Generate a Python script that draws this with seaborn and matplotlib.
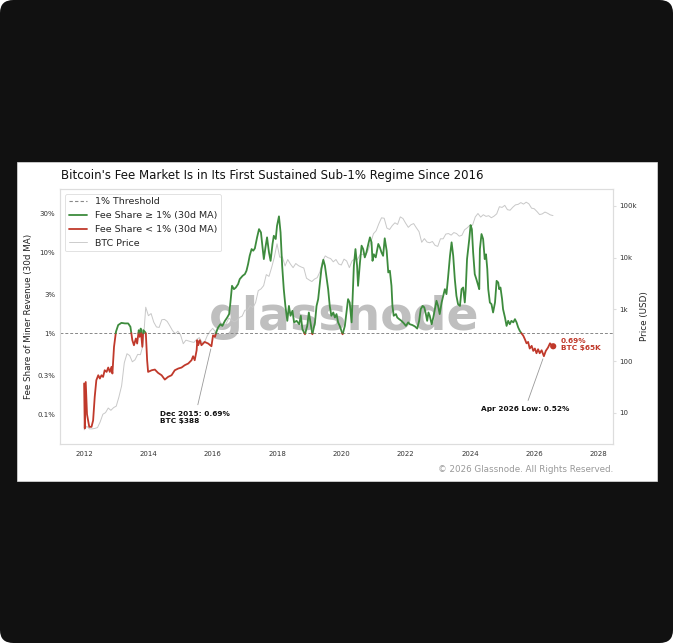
import numpy as np
import matplotlib
matplotlib.use("Agg")
import matplotlib.pyplot as plt
from matplotlib.lines import Line2D
from matplotlib.patches import FancyBboxPatch, Rectangle
from matplotlib.ticker import FixedLocator, FixedFormatter, NullLocator
import seaborn as sns

# fee share of miner revenue, 30d MA (%)
fee_year = [
    2012.00, 2012.02, 2012.05, 2012.09, 2012.16, 2012.23, 2012.28, 2012.33, 2012.38, 2012.44,
    2012.49, 2012.54, 2012.59, 2012.64, 2012.70, 2012.75, 2012.80, 2012.85, 2012.88, 2012.93,
    2012.99, 2013.06, 2013.16, 2013.27, 2013.37, 2013.44, 2013.50, 2013.55, 2013.61, 2013.65,
    2013.70, 2013.73, 2013.76, 2013.81, 2013.84, 2013.89, 2013.92, 2013.96, 2013.99, 2014.10,
    2014.20, 2014.30, 2014.41, 2014.51, 2014.61, 2014.72, 2014.82, 2014.93, 2015.03, 2015.13,
    2015.24, 2015.34, 2015.39, 2015.44, 2015.50, 2015.52, 2015.55, 2015.60, 2015.65, 2015.75,
    2015.86, 2015.96, 2016.01, 2016.07, 2016.12, 2016.17, 2016.24, 2016.30, 2016.38, 2016.45,
    2016.51, 2016.55, 2016.60, 2016.66, 2016.72, 2016.79, 2016.84, 2016.93, 2017.00, 2017.05,
    2017.10, 2017.15, 2017.21, 2017.26, 2017.31, 2017.38, 2017.44, 2017.50, 2017.55, 2017.59,
    2017.64, 2017.69, 2017.75, 2017.80, 2017.86, 2017.90, 2017.96, 2018.00, 2018.06, 2018.11,
    2018.16, 2018.21, 2018.26, 2018.32, 2018.37, 2018.42, 2018.48, 2018.53, 2018.61, 2018.69,
    2018.74, 2018.79, 2018.87, 2018.94, 2018.99, 2019.04, 2019.10, 2019.18, 2019.23, 2019.28,
    2019.33, 2019.38, 2019.44, 2019.49, 2019.54, 2019.59, 2019.64, 2019.69, 2019.75, 2019.80,
    2019.85, 2019.90, 2019.95, 2020.04, 2020.11, 2020.16, 2020.21, 2020.26, 2020.32, 2020.35,
    2020.39, 2020.44, 2020.49, 2020.52, 2020.58, 2020.63, 2020.68, 2020.73, 2020.78, 2020.84,
    2020.89, 2020.94, 2020.97, 2021.01, 2021.07, 2021.15, 2021.20, 2021.25, 2021.30, 2021.35,
    2021.41, 2021.46, 2021.51, 2021.56, 2021.59, 2021.63, 2021.70, 2021.74, 2021.80, 2021.87,
    2021.94, 2022.01, 2022.08, 2022.13, 2022.21, 2022.29, 2022.36, 2022.42, 2022.47, 2022.53,
    2022.58, 2022.63, 2022.67, 2022.71, 2022.75, 2022.81, 2022.86, 2022.91, 2022.96, 2023.01,
    2023.06, 2023.12, 2023.17, 2023.22, 2023.27, 2023.32, 2023.38, 2023.43, 2023.48, 2023.53,
    2023.58, 2023.63, 2023.69, 2023.74, 2023.79, 2023.84, 2023.87, 2023.91, 2023.98, 2024.02,
    2024.06, 2024.10, 2024.15, 2024.20, 2024.26, 2024.29, 2024.31, 2024.36, 2024.41, 2024.46,
    2024.50, 2024.54, 2024.57, 2024.62, 2024.67, 2024.72, 2024.78, 2024.83, 2024.88, 2024.91,
    2024.95, 2025.00, 2025.03, 2025.09, 2025.14, 2025.19, 2025.24, 2025.29, 2025.35, 2025.40,
    2025.45, 2025.50, 2025.55, 2025.60, 2025.66, 2025.71, 2025.76, 2025.81, 2025.86, 2025.92,
    2025.97, 2026.02, 2026.07, 2026.12, 2026.17, 2026.23, 2026.30, 2026.36, 2026.43, 2026.49,
    2026.54, 2026.59,
]
fee_pct = [
    0.24, 0.067, 0.25, 0.10, 0.070, 0.070, 0.084, 0.164, 0.263, 0.303,
    0.276, 0.303, 0.289, 0.349, 0.333, 0.377, 0.333, 0.384, 0.318, 0.678,
    1.04, 1.26, 1.34, 1.32, 1.32, 1.20, 0.82, 0.71, 0.86, 0.745,
    1.09, 0.90, 1.14, 0.68, 1.09, 1.04, 0.99, 0.464, 0.333, 0.349,
    0.356, 0.324, 0.303, 0.268, 0.289, 0.303, 0.349, 0.367, 0.377, 0.403,
    0.423, 0.464, 0.520, 0.464, 0.617, 0.82, 0.711, 0.82, 0.711, 0.78,
    0.745, 0.69, 0.94, 0.90, 1.05, 1.18, 1.29, 1.23, 1.42, 1.56,
    1.72, 2.39, 3.84, 3.49, 3.66, 4.03, 4.64, 5.10, 5.35, 5.89,
    7.11, 9.01, 10.9, 10.4, 11.1, 15.2, 19.2, 17.5, 11.4, 8.2,
    11.4, 15.2, 9.9, 7.8, 12.6, 15.9, 14.5, 21.1, 27.6, 17.5,
    6.78, 3.49, 2.17, 1.42, 2.17, 1.64, 1.89, 1.36, 1.42, 1.29,
    1.64, 1.12, 0.97, 1.23, 1.80, 1.36, 0.97, 1.36, 2.17, 2.63,
    4.03, 6.17, 8.04, 6.78, 4.87, 3.49, 2.17, 1.64, 1.80, 1.56,
    1.72, 1.36, 1.23, 0.97, 1.23, 1.80, 2.63, 2.39, 1.36, 2.63,
    6.78, 10.9, 6.78, 3.84, 7.46, 12.0, 10.9, 8.6, 9.9, 12.6,
    15.2, 13.2, 7.8, 9.4, 8.6, 12.6, 11.4, 9.9, 9.0, 14.8,
    10.4, 5.61, 5.89, 3.84, 2.17, 1.64, 1.72, 1.56, 1.49, 1.42,
    1.33, 1.23, 1.36, 1.29, 1.26, 1.21, 1.14, 1.42, 1.98, 2.17,
    2.08, 1.72, 1.42, 1.80, 1.64, 1.29, 1.56, 1.98, 2.51, 2.17,
    1.72, 2.39, 2.89, 3.49, 3.03, 4.87, 9.0, 13.2, 9.0, 4.64,
    2.89, 2.28, 2.17, 3.49, 3.66, 2.39, 3.49, 8.2, 14.5, 21.5,
    19.2, 9.9, 5.35, 4.64, 3.84, 3.49, 10.9, 16.7, 14.5, 8.2,
    9.4, 6.17, 3.49, 2.39, 2.28, 1.80, 2.39, 4.42, 4.22, 3.49,
    3.66, 2.63, 1.98, 1.56, 1.23, 1.42, 1.29, 1.42, 1.36, 1.49,
    1.36, 1.18, 1.07, 1.00, 0.93, 0.84, 0.75, 0.78, 0.647, 0.698,
    0.605, 0.647, 0.566, 0.634, 0.566, 0.616, 0.52, 0.605, 0.666, 0.75,
    0.711, 0.69,
]

# BTC price (USD) at the start of each month, Jan 2012 .. Aug 2026
btc_price = [
    4.7, 5.5, 4.9, 4.9, 5.0, 5.2, 6.7, 9.4, 10.1, 12.4, 11.2, 12.6,
    13.5, 20.4, 33.4, 93, 139, 128, 97, 106, 135, 133, 204, 1100,
    754, 830, 565, 457, 448, 630, 640, 585, 480, 388, 338, 378,
    320, 217, 254, 245, 236, 230, 263, 284, 230, 236, 313, 378,
    430, 369, 437, 416, 448, 531, 673, 624, 573, 609, 699, 742,
    964, 970, 1190, 1080, 1350, 2300, 2480, 2870, 4700, 4340, 6470, 10200,
    18500, 10200, 10300, 6900, 9200, 7500, 6400, 7700, 7000, 6600, 6300, 4000,
    3700, 3450, 3850, 4100, 5300, 8600, 10800, 10000, 9600, 8300, 9200, 7550,
    7200, 9350, 8600, 6400, 8650, 9450, 9150, 11350, 11650, 10800, 13800, 19700,
    29000, 33100, 45200, 58800, 57700, 37300, 35000, 41500, 47100, 43800, 61300, 57000,
    46300, 38500, 43200, 45500, 37700, 31800, 19800, 23300, 20000, 19400, 20500, 17200,
    16500, 23100, 23100, 28500, 29200, 27200, 30500, 29200, 26000, 27000, 34500, 37700,
    42300, 42600, 61200, 71300, 60700, 67500, 62700, 64600, 59000, 63300, 70200, 96400,
    93400, 102400, 84400, 82500, 94200, 104600, 107100, 115700, 108200, 118000, 109500, 90400,
    88000, 78000, 68000, 70000, 76000, 72000, 67000, 65000,
]
price_year = 2012 + np.arange(len(btc_price)) / 12

THRESHOLD = 1.0
GREEN = "#3d8b3d"
RED = "#c0392b"


def split_at_threshold(xs, ys, thr):
    """
    Splits a series into runs above / below thr, adding the crossing points
    """
    segs = []
    cur_x, cur_y = [xs[0]], [ys[0]]
    cur_above = ys[0] >= thr
    for i in range(1, len(xs)):
        above = ys[i] >= thr
        if above != cur_above:
            l0, l1 = np.log10(ys[i - 1]), np.log10(ys[i])
            t = (np.log10(thr) - l0) / (l1 - l0)
            xc = xs[i - 1] + t * (xs[i] - xs[i - 1])
            cur_x.append(xc)
            cur_y.append(thr)
            segs.append((cur_x, cur_y, cur_above))
            cur_x, cur_y = [xc], [thr]
            cur_above = above
        cur_x.append(xs[i])
        cur_y.append(ys[i])
    segs.append((cur_x, cur_y, cur_above))
    return segs


sns.set_style("white")
plt.rcParams["font.family"] = ["DejaVu Sans"]

W, H = 673, 643
fig = plt.figure(figsize=(W / 100, H / 100), dpi=100)
fig.patch.set_facecolor("white")
fig.patches.append(FancyBboxPatch((0, 0), 1, 1, boxstyle="round,pad=0,rounding_size=0.02",
                                  transform=fig.transFigure, facecolor="#111111",
                                  edgecolor="none", zorder=-10))
fig.patches.append(Rectangle((17 / W, 162 / H), 640 / W, 319 / H, transform=fig.transFigure,
                             facecolor="white", edgecolor="#e0e0e0", lw=0.5, zorder=-9))

ax = fig.add_axes([60 / W, 199 / H, 553 / W, 255 / H])
ax2 = ax.twinx()
ax.set_zorder(ax2.get_zorder() + 1)
ax.patch.set_visible(False)

# price on the right axis
sns.lineplot(x=price_year, y=btc_price, ax=ax2, color="#c8c8c8", lw=0.7)
ax2.set_yscale("log")
ax2.set_ylim(2.5, 212000)
ax2.yaxis.set_major_locator(FixedLocator([10, 100, 1000, 10000, 100000]))
ax2.yaxis.set_major_formatter(FixedFormatter(["10", "100", "1k", "10k", "100k"]))
ax2.yaxis.set_minor_locator(NullLocator())
ax2.set_ylabel("Price (USD)", fontsize=6.3, color="#222222")
ax2.yaxis.set_label_coords(1.0488, 0.5)
ax2.tick_params(axis="y", labelsize=5, length=2, pad=2.5, color="#dddddd", labelcolor="#333333")

ax2.text(0.5136, 0.447, "glassnode", transform=ax2.transAxes, ha="center", va="baseline",
         fontsize=34, fontweight="bold", color="#bfbfbf", zorder=0.5)

# fee share on the left axis
ax.axhline(THRESHOLD, color="#888888", ls=(0, (3, 2)), lw=0.7, zorder=1)
for xs, ys, above in split_at_threshold(fee_year, fee_pct, THRESHOLD):
    sns.lineplot(x=xs, y=ys, ax=ax, color=GREEN if above else RED, lw=1.3, zorder=3)
sns.scatterplot(x=[fee_year[-1]], y=[fee_pct[-1]], ax=ax, color=RED, s=20,
                edgecolor="none", zorder=5)

ax.set_yscale("log")
ax.set_ylim(0.043, 60)
ax.set_xlim(2011.25, 2028.45)
ax.yaxis.set_major_locator(FixedLocator([0.1, 0.3, 1, 3, 10, 30]))
ax.yaxis.set_major_formatter(FixedFormatter(["0.1%", "0.3%", "1%", "3%", "10%", "30%"]))
ax.yaxis.set_minor_locator(NullLocator())
ax.set_xticks(range(2012, 2029, 2))
ax.tick_params(axis="y", labelsize=5, length=0, pad=3.5, labelcolor="#333333")
ax.tick_params(axis="x", labelsize=5, length=0, pad=5, labelcolor="#333333")
ax.set_xlabel("")
ax.set_ylabel("Fee Share of Miner Revenue (30d MA)", fontsize=6.3, color="#222222")
ax.yaxis.set_label_coords(-0.049, 0.5)
for a in (ax, ax2):
    for sp in a.spines.values():
        sp.set_color("#dddddd")
        sp.set_linewidth(0.8)

# annotations
ax.annotate("Dec 2015: 0.69%\nBTC $388", xy=(2015.96, 0.69), xytext=(2014.36, 0.092),
            ha="left", va="center", fontsize=5.3, fontweight="bold", color="#111111",
            arrowprops=dict(arrowstyle="-", color="#999999", lw=0.6, shrinkA=2, shrinkB=2))
ax.annotate("Apr 2026 Low: 0.52%", xy=(2026.30, 0.52), xytext=(2025.71, 0.115),
            ha="center", va="center", fontsize=5.3, fontweight="bold", color="#111111",
            arrowprops=dict(arrowstyle="-", color="#999999", lw=0.6, shrinkA=2, shrinkB=2))
ax.text(2026.82, 0.717, "0.69%\nBTC $65K", ha="left", va="center", fontsize=5.3,
        fontweight="bold", color=RED)

handles = [
    Line2D([], [], color="#888888", ls=(0, (3, 2)), lw=0.8),
    Line2D([], [], color=GREEN, lw=1.3),
    Line2D([], [], color=RED, lw=1.3),
    Line2D([], [], color="#cccccc", lw=0.7),
]
labels = ["1% Threshold", "Fee Share \u2265 1% (30d MA)", "Fee Share < 1% (30d MA)", "BTC Price"]
leg = ax.legend(handles, labels, loc="upper left", fontsize=6.8, frameon=True, framealpha=1,
                edgecolor="#dddddd", labelspacing=0.5, handlelength=2.0, fancybox=True)
leg.get_frame().set_linewidth(0.6)

fig.text(61 / W, 1 - 175 / H,
         "Bitcoin's Fee Market Is in Its First Sustained Sub-1% Regime Since 2016",
         ha="left", va="center", fontsize=8.5, color="#111111")
fig.text(613 / W, 1 - 470 / H, "\u00a9 2026 Glassnode. All Rights Reserved.",
         ha="right", va="center", fontsize=6.3, color="#999999")

fig.savefig("out.png", dpi=100, facecolor=fig.get_facecolor())
